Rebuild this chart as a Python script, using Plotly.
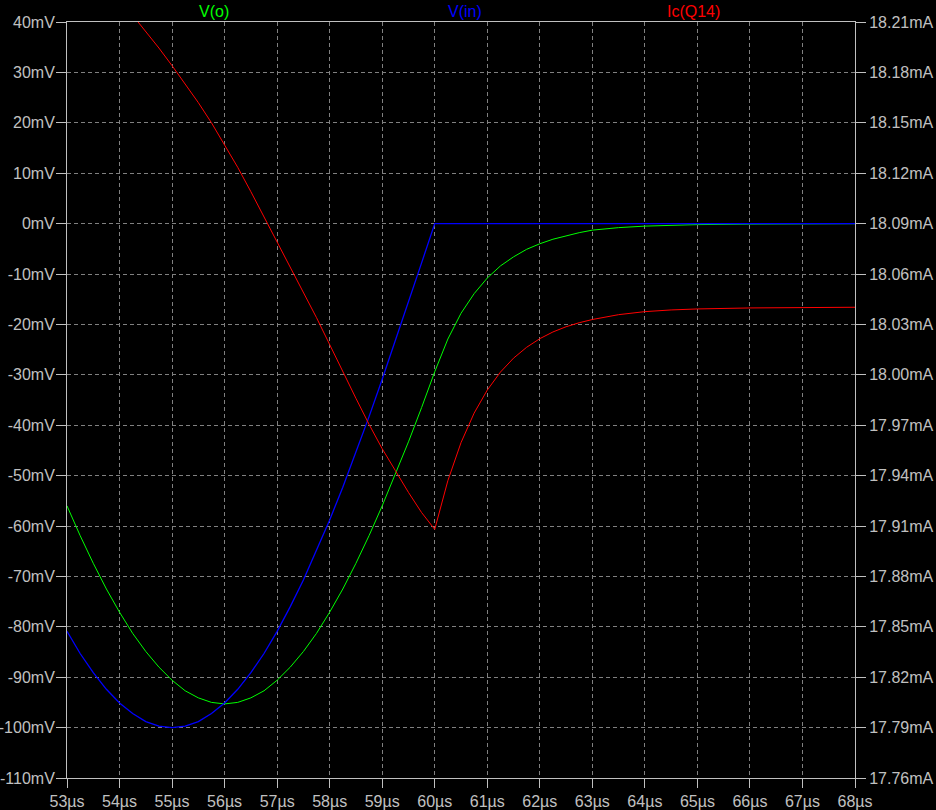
import plotly.graph_objects as go

# time axis (µs)
t_us = [53.0, 53.25, 53.5, 53.75, 54.0, 54.25, 54.5, 54.75, 55.0, 55.25, 55.5, 55.75,
        56.0, 56.25, 56.5, 56.75, 57.0, 57.25, 57.5, 57.75, 58.0, 58.25, 58.5, 58.75,
        59.0, 59.25, 59.5, 59.75, 60.0, 60.25, 60.5, 60.75, 61.0, 61.25, 61.5, 61.75,
        62.0, 62.25, 62.5, 62.75, 63.0, 63.5, 64.0, 64.5, 65.0, 66.0, 67.0, 68.0]

# V(o) in mV
v_o = [-56.0, -61.9, -67.4, -72.5, -77.1, -81.3, -84.9, -88.0, -90.6, -92.7, -94.1, -95.0,
       -95.3, -95.0, -94.1, -92.7, -90.6, -88.0, -84.9, -81.3, -77.1, -72.5, -67.4, -61.9,
       -56.0, -49.8, -43.3, -36.5, -29.4, -22.9, -17.8, -13.9, -10.8, -8.4, -6.6, -5.1,
       -4.0, -3.1, -2.4, -1.8, -1.3, -0.8, -0.5, -0.3, -0.2, -0.1, -0.04, -0.02]

# V(in) in mV
v_in = [-80.9, -85.3, -89.1, -92.4, -95.1, -97.2, -98.8, -99.7, -100.0, -99.7, -98.8, -97.2,
        -95.1, -92.4, -89.1, -85.3, -80.9, -76.0, -70.7, -64.9, -58.8, -52.3, -45.4, -38.3,
        -30.9, -23.3, -15.6, -7.8, 0.0, 0.0, 0.0, 0.0, 0.0, 0.0, 0.0, 0.0,
        0.0, 0.0, 0.0, 0.0, 0.0, 0.0, 0.0, 0.0, 0.0, 0.0, 0.0, 0.0]

# Ic(Q14) in mA
ic_q14 = [None, None, None, None, None, 18.214, 18.2045, 18.1945, 18.184, 18.173, 18.162, 18.150,
          18.137, 18.1235, 18.109, 18.094, 18.079, 18.064, 18.049, 18.034, 18.018, 18.0015, 17.986, 17.9705,
          17.956, 17.943, 17.930, 17.918, 17.908, 17.937, 17.9596, 17.9772, 17.9909, 18.0016, 18.0099, 18.0164,
          18.0215, 18.0255, 18.0286, 18.031, 18.0329, 18.0358, 18.0376, 18.0386, 18.0392, 18.0398, 18.0401, 18.0402]

x_ticks = list(range(53, 69))
x_ticktext = [f"{v}µs" for v in x_ticks]
y_ticks = list(range(-110, 41, 10))
y_ticktext = [f"{v}mV" for v in y_ticks]
y2_ticks = [round(17.76 + 0.03 * i, 2) for i in range(16)]
y2_ticktext = [f"{v:.2f}mA" for v in y2_ticks]

fig = go.Figure()
fig.add_trace(go.Scatter(x=t_us, y=v_o, mode="lines", name="V(o)",
                         line=dict(color="#00ff00", width=1)))
fig.add_trace(go.Scatter(x=t_us, y=v_in, mode="lines", name="V(in)",
                         line=dict(color="#0000ff", width=1.3)))
fig.add_trace(go.Scatter(x=t_us, y=ic_q14, mode="lines", name="Ic(Q14)", yaxis="y2",
                         line=dict(color="#ff0000", width=1)))

axis_col = "#c0c0c0"
grid_col = "#808080"
font = dict(family="Liberation Sans, Arial, sans-serif", size=16, color=axis_col)

fig.update_layout(
    width=936, height=810,
    paper_bgcolor="#000000", plot_bgcolor="#000000",
    margin=dict(l=67, r=81, t=22, b=32, autoexpand=False),
    showlegend=False,
    font=font,
    xaxis=dict(range=[53, 68], tickvals=x_ticks, ticktext=x_ticktext,
               showline=True, linecolor=axis_col, linewidth=1, mirror=True,
               ticks="outside", ticklen=9, tickcolor=axis_col,
               showgrid=True, gridcolor=grid_col, griddash="4px,3px", gridwidth=1,
               zeroline=False, tickfont=font, automargin=False),
    yaxis=dict(range=[-110, 40], tickvals=y_ticks, ticktext=y_ticktext,
               showline=True, linecolor=axis_col, linewidth=1,
               ticks="outside", ticklen=10, tickcolor=axis_col, ticklabelstandoff=-2,
               showgrid=True, gridcolor=grid_col, griddash="4px,3px", gridwidth=1,
               zeroline=False, tickfont=font, automargin=False),
    yaxis2=dict(range=[17.76, 18.21], tickvals=y2_ticks, ticktext=y2_ticktext,
                overlaying="y", side="right",
                showline=True, linecolor=axis_col, linewidth=1,
                ticks="outside", ticklen=10, tickcolor=axis_col,
                showgrid=False, zeroline=False, tickfont=font, automargin=False),
    annotations=[
        dict(text="V(o)", x=0.165, y=1, xref="paper", yref="paper",
             yanchor="middle", yshift=11, showarrow=False,
             font=dict(family=font["family"], size=16, color="#00ff00")),
        dict(text="V(in)", x=0.505, y=1, xref="paper", yref="paper",
             yanchor="middle", yshift=11, showarrow=False,
             font=dict(family=font["family"], size=16, color="#0000ff")),
        dict(text="Ic(Q14)", x=0.831, y=1, xref="paper", yref="paper",
             yanchor="middle", yshift=11, showarrow=False,
             font=dict(family=font["family"], size=16, color="#ff0000")),
    ],
)

fig.write_html(
    "out.html",
    config={"displayModeBar": False},
    post_script="document.body.style.margin='0';document.body.style.overflow='hidden';document.body.style.background='#000';",
)
